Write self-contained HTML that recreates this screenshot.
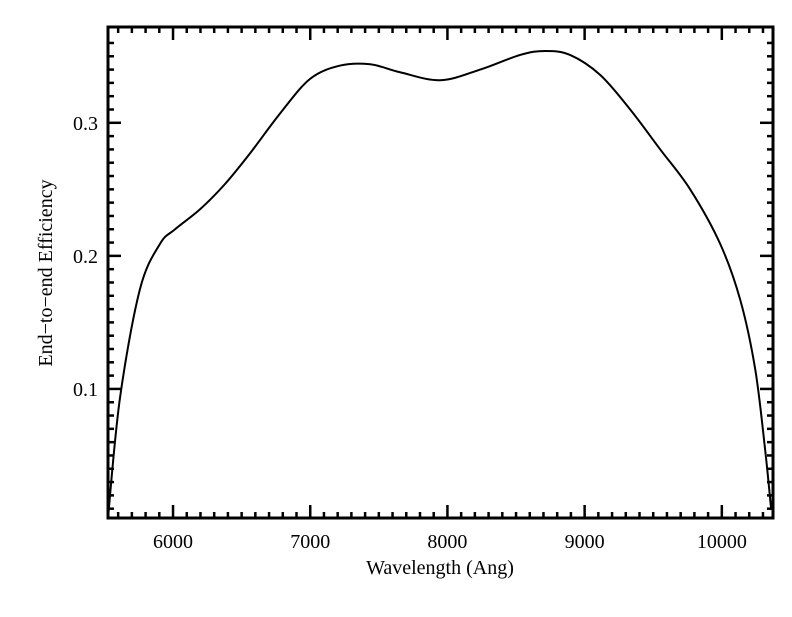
<!DOCTYPE html>
<html><head><meta charset="utf-8"><style>
body{margin:0;background:#fff}
svg text{font-family:"Liberation Serif",serif;fill:#000}
</style></head><body>
<svg id="chart" width="792" height="612">
<rect width="792" height="612" fill="#fff"/>
<g id="axes"></g>
<path id="curve" fill="none" stroke="#000" stroke-width="2"/>
<text x="440" y="574" font-size="20" text-anchor="middle">Wavelength (Ang)</text>
<text transform="translate(52,273) rotate(-90)" font-size="20" text-anchor="middle">End−to−end Efficiency</text>
</svg>
<script>
const wavelengths=[5526,5613,5759,5905,6015,6197,6379,6561,6780,6999,7218,7437,7655,7947,8239,8530,8712,8894,9113,9332,9551,9769,9988,10134,10243,10316,10360];
const efficiency=[0.003,0.093,0.175,0.209,0.22,0.235,0.254,0.277,0.307,0.333,0.343,0.344,0.338,0.332,0.340,0.351,0.354,0.351,0.336,0.310,0.280,0.250,0.209,0.167,0.115,0.054,0.009];
const xTicks=[6000,7000,8000,9000,10000];
const yTicks=[0.1,0.2,0.3];
const xMin=5526,xMax=10373,yMin=0.003,yMax=0.372;
const L=108,R=773,T=27,B=518;
const sx=w=>L+(w-xMin)/(xMax-xMin)*(R-L);
const sy=v=>B-(v-yMin)/(yMax-yMin)*(B-T);
const NS="http://www.w3.org/2000/svg";
const g=document.getElementById('axes');
function line(x1,y1,x2,y2,w,name){const l=document.createElementNS(NS,'line');
l.setAttribute('x1',x1);l.setAttribute('y1',y1);l.setAttribute('x2',x2);l.setAttribute('y2',y2);
l.setAttribute('stroke','#000');l.setAttribute('stroke-width',w);


g.appendChild(l);}
const fr=document.createElementNS(NS,'rect');
fr.setAttribute('x',L);fr.setAttribute('y',T);fr.setAttribute('width',R-L);fr.setAttribute('height',B-T);
fr.setAttribute('fill','none');fr.setAttribute('stroke','#000');fr.setAttribute('stroke-width',3);


g.appendChild(fr);
for(let w=5600;w<=10300;w+=100){const x=sx(w);const major=w%1000===0;const len=major?13:6;
line(x,B,x,B-len,2.5,'x-tick');line(x,T,x,T+len,2.5,'x-tick-top');}
for(let k=1;k<=36;k++){const v=k/100;const y=sy(v);const major=k%10===0;const len=major?13:6;
line(L,y,L+len,y,2.5,'y-tick');line(R,y,R-len,y,2.5,'y-tick-right');}
xTicks.forEach(w=>{const t=document.createElementNS(NS,'text');t.setAttribute('x',sx(w));t.setAttribute('y',548);
t.setAttribute('font-size','20');t.setAttribute('text-anchor','middle');t.textContent=w;


g.appendChild(t);});
yTicks.forEach(v=>{const t=document.createElementNS(NS,'text');t.setAttribute('x',98);t.setAttribute('y',sy(v)+7);
t.setAttribute('font-size','20');t.setAttribute('text-anchor','end');t.textContent=v.toFixed(1);


g.appendChild(t);});
// smooth path via Catmull-Rom
const pts=wavelengths.map((w,i)=>[sx(w),sy(efficiency[i])]);
let d='M'+pts[0][0]+','+pts[0][1];
for(let i=0;i<pts.length-1;i++){const p0=pts[Math.max(0,i-1)],p1=pts[i],p2=pts[i+1],p3=pts[Math.min(pts.length-1,i+2)];
const c1=[p1[0]+(p2[0]-p0[0])/6,p1[1]+(p2[1]-p0[1])/6],c2=[p2[0]-(p3[0]-p1[0])/6,p2[1]-(p3[1]-p1[1])/6];
d+=' C'+c1+' '+c2+' '+p2;}
document.getElementById('curve').setAttribute('d',d);
</script>
</body></html>
